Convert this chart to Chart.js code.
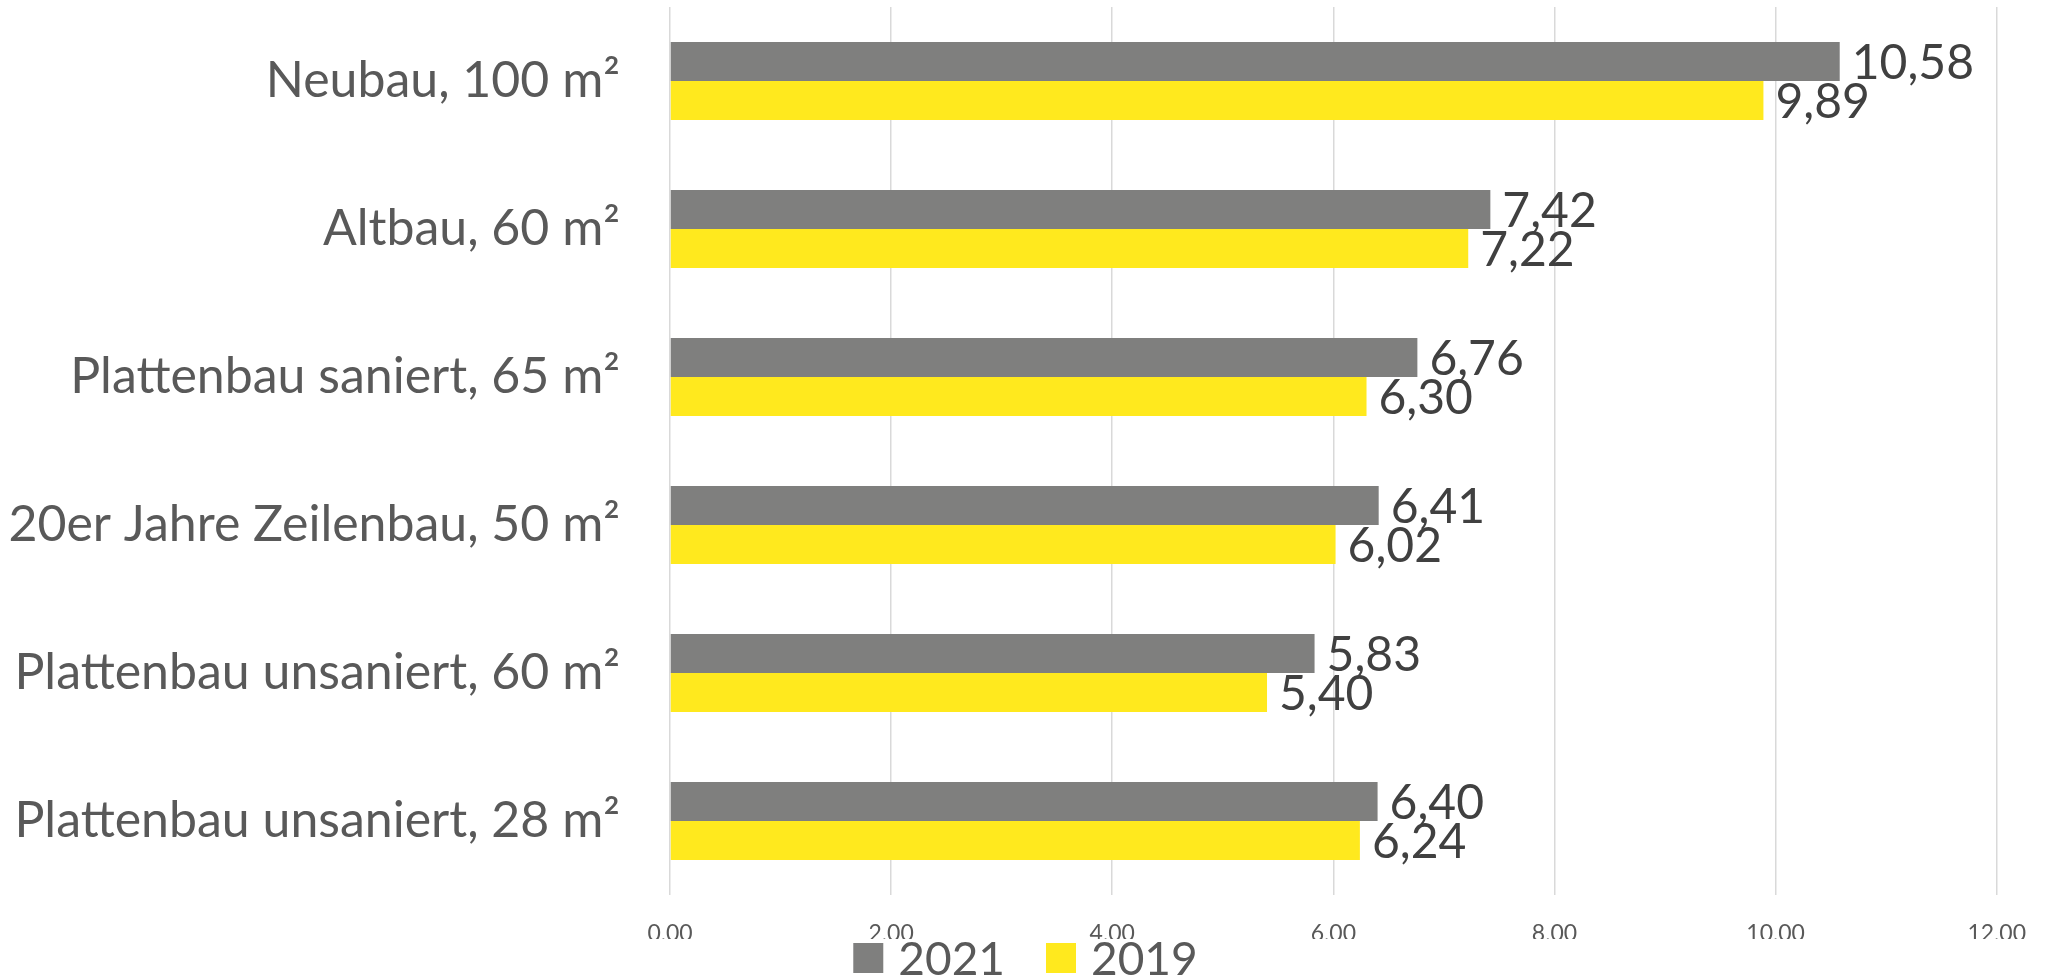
<!DOCTYPE html>
<html>
<head>
<meta charset="utf-8">
<script src="https://cdn.jsdelivr.net/npm/chart.js@4/dist/chart.umd.min.js"></script>
<style>
  html, body { margin: 0; padding: 0; background: #fff; }
  #wrap { width: 2051px; height: 979px; }
</style>
</head>
<body>
<div id="wrap"><canvas id="bar-chart"></canvas></div>
<script>
// categories and values
const categories = [
  "Neubau, 100 m²",
  "Altbau, 60 m²",
  "Plattenbau saniert, 65 m²",
  "20er Jahre Zeilenbau, 50 m²",
  "Plattenbau unsaniert, 60 m²",
  "Plattenbau unsaniert, 28 m²"
];
const values2021 = [10.58, 7.42, 6.76, 6.41, 5.83, 6.40];
const values2019 = [9.89, 7.22, 6.30, 6.02, 5.40, 6.24];
const xTicks = [0, 2, 4, 6, 8, 10, 12];

const fmt = v => Number(v).toFixed(2).replace('.', ',');

// value labels at the end of each bar
const barLabels = {
  id: 'barLabels',
  afterDatasetsDraw(chart) {
    const ctx = chart.ctx;
    ctx.save();
    ctx.font = '48px Lato';
    ctx.fillStyle = '#404040';
    ctx.textAlign = 'left';
    ctx.textBaseline = 'middle';
    chart.data.datasets.forEach((ds, i) => {
      chart.getDatasetMeta(i).data.forEach((bar, j) => {
        ctx.fillText(fmt(ds.data[j]), bar.x + 12, bar.y + 2);
      });
    });
    ctx.restore();
  }
};

// legend under the axis, boxes + series names
const bottomLegend = {
  id: 'bottomLegend',
  afterDraw(chart) {
    const ctx = chart.ctx;
    const box = 30, gap = 15, spacing = 41;
    ctx.save();
    ctx.font = '46px Lato';
    const items = chart.data.datasets.map(ds => ({
      text: ds.label, color: ds.backgroundColor, w: ctx.measureText(ds.label).width
    }));
    let total = items.reduce((s, it) => s + box + gap + it.w, 0) + spacing * (items.length - 1);
    let x = (chart.width - total) / 2;
    const y = chart.chartArea.bottom + 48;
    ctx.textBaseline = 'middle';
    ctx.textAlign = 'left';
    items.forEach(it => {
      ctx.fillStyle = it.color;
      ctx.fillRect(x, y, box, box);
      ctx.fillStyle = '#595959';
      ctx.fillText(it.text, x + box + gap, y + box / 2 + 2);
      x += box + gap + it.w + spacing;
    });
    ctx.restore();
  }
};

new Chart(document.getElementById("bar-chart"), {
  type: 'bar',
  data: {
    labels: categories,
    datasets: [{
        label: "2021",
        data: values2021,
        backgroundColor: "#7f7f7e",
        borderWidth: 0
      },
      {
        label: "2019",
        data: values2019,
        backgroundColor: "#ffe91e",
        borderWidth: 0
      }
    ]
  },
  options: {
    indexAxis: 'y',
    responsive: true,
    maintainAspectRatio: false,
    animation: false,
    categoryPercentage: 0.527,
    barPercentage: 1,
    layout: { padding: { top: 7, right: 52, left: 0, bottom: 40 } },
    scales: {
      x: {
        min: 0,
        max: 12,
        afterBuildTicks: scale => { scale.ticks = xTicks.map(v => ({ value: v })); },
        afterFit: scale => { scale.height = 44; },
        grid: { color: '#d9d9d9', lineWidth: 1.5, drawTicks: false },
        border: { display: false },
        ticks: {
          padding: 25,
          color: '#595959',
          font: { family: 'Lato', size: 23 },
          callback: v => fmt(v)
        }
      },
      y: {
        afterFit: scale => {
          scale.width = 670;
          // tick padding would otherwise push the plot down
          scale.paddingTop = 0;
          scale.paddingBottom = 0;
        },
        grid: { display: false, drawTicks: false },
        border: { display: false },
        ticks: {
          padding: 50,
          color: '#595959',
          font: { family: 'Lato', size: 50 }
        }
      }
    },
    plugins: {
      tooltip: { enabled: false },
      legend: { display: false }
    }
  },
  plugins: [barLabels, bottomLegend]
});
</script>
</body>
</html>
